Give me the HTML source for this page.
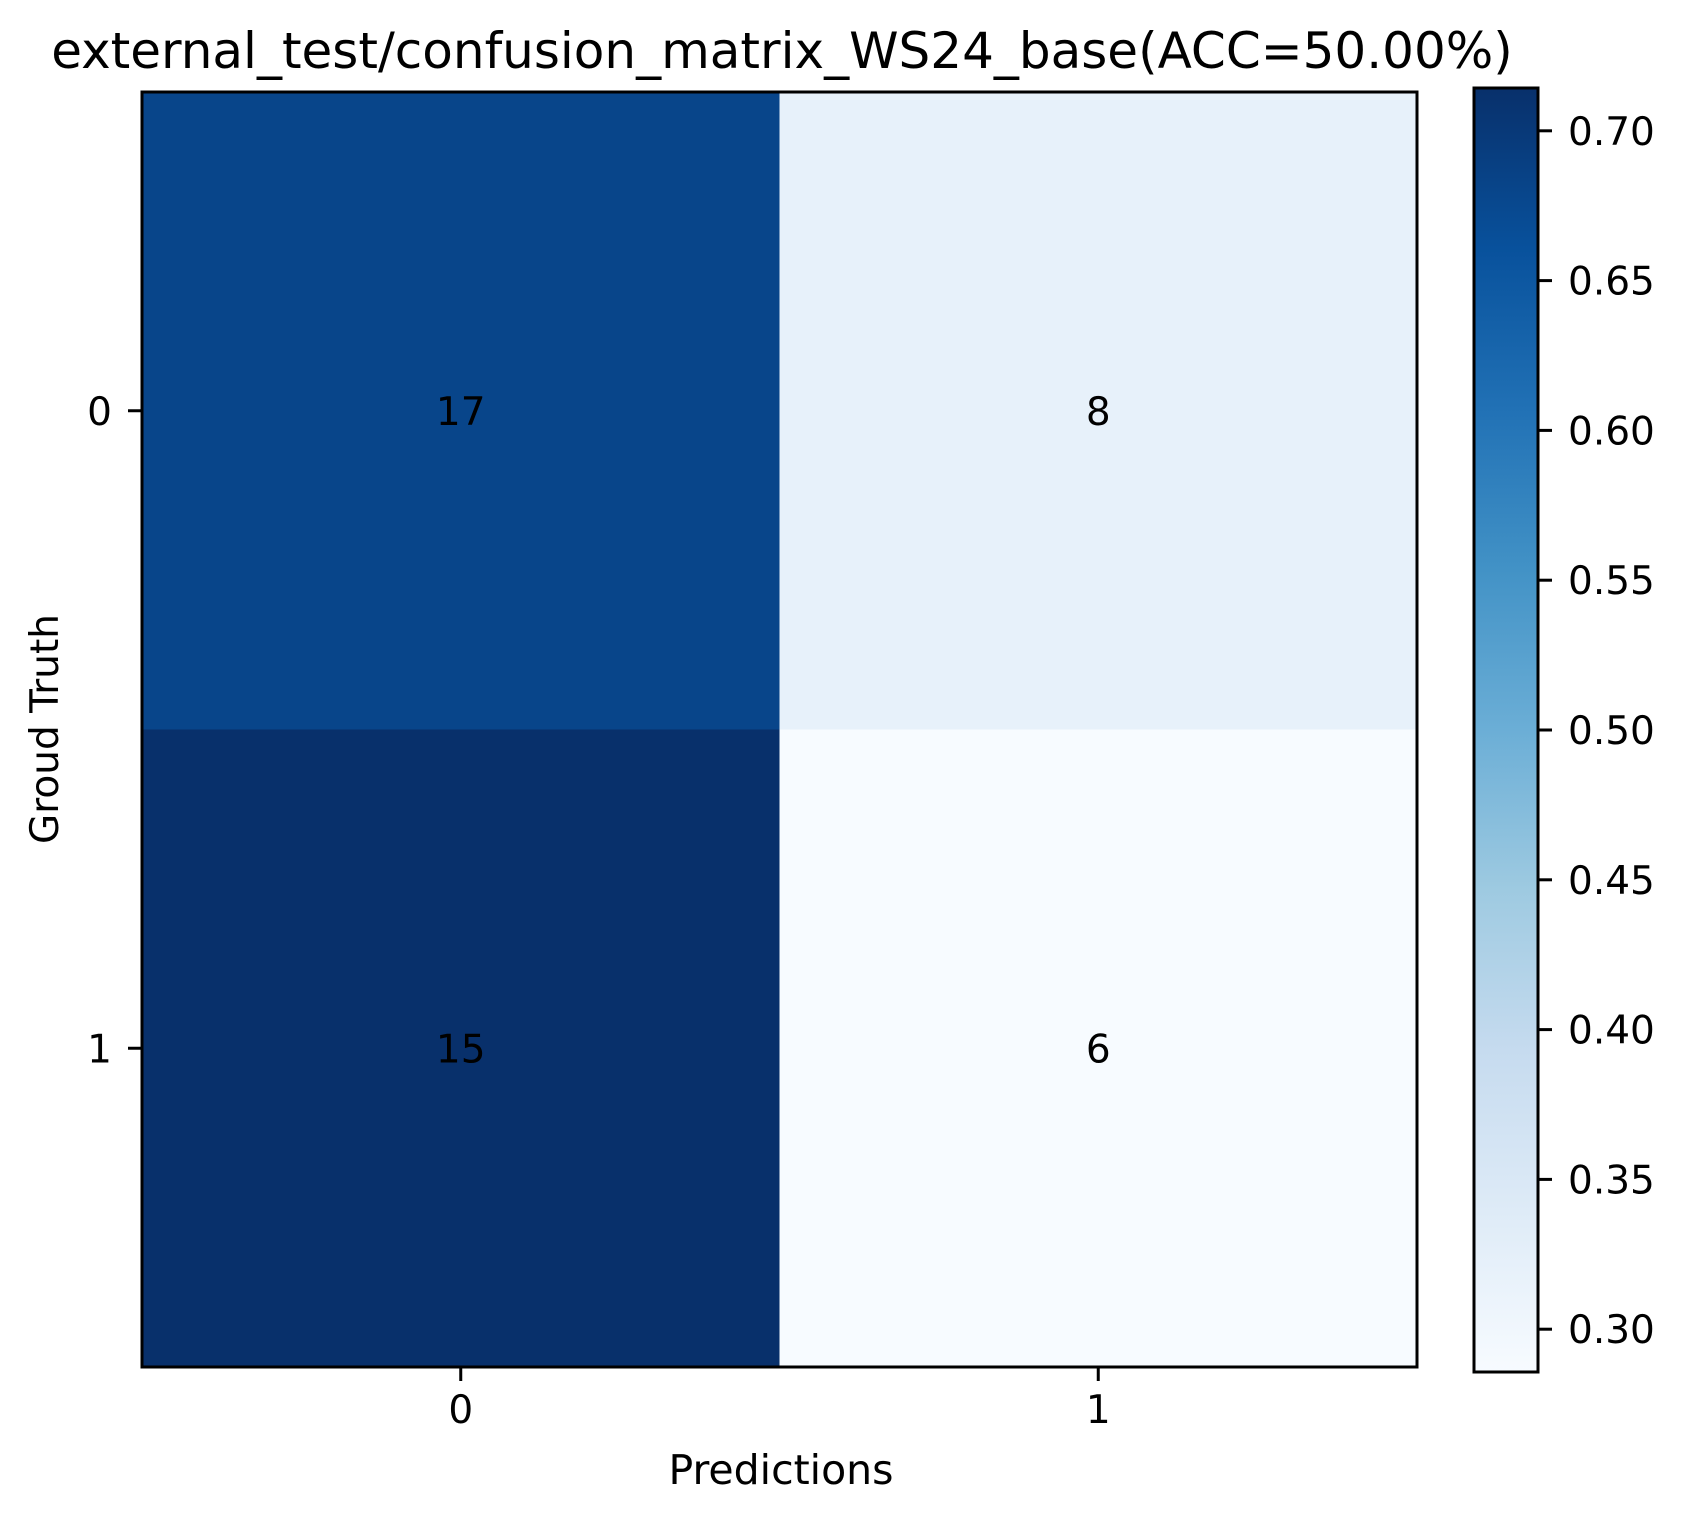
<!DOCTYPE html>
<html><head><meta charset="utf-8"><style>
html,body{margin:0;padding:0;background:#fff;}
svg{display:block;font-family:"DejaVu Sans","Liberation Sans",sans-serif;}
</style></head><body>
<svg id="chart" width="1689" height="1523" viewBox="0 0 1689 1523" xmlns="http://www.w3.org/2000/svg">
<defs>
<linearGradient id="cbgrad" x1="0" y1="1" x2="0" y2="0">
<stop offset="0" stop-color="#f7fbff"/><stop offset="0.125" stop-color="#deebf7"/><stop offset="0.25" stop-color="#c6dbef"/><stop offset="0.375" stop-color="#9ecae1"/><stop offset="0.5" stop-color="#6baed6"/><stop offset="0.625" stop-color="#4292c6"/><stop offset="0.75" stop-color="#2171b5"/><stop offset="0.875" stop-color="#08519c"/><stop offset="1" stop-color="#08306b"/>
</linearGradient>
</defs>
<text x="782" y="68" font-size="50" text-anchor="middle">external_test/confusion_matrix_WS24_base(ACC=50.00%)</text>
<g id="cells"></g>
<rect x="142" y="92" width="1275" height="1275" fill="none" stroke="#000" stroke-width="3"/>
<g id="ticks"></g>
<text x="781" y="1484" font-size="41" text-anchor="middle">Predictions</text>
<text transform="translate(58,729) rotate(-90)" font-size="39" text-anchor="middle">Groud Truth</text>
<rect x="1474" y="88" width="64" height="1284" fill="url(#cbgrad)" stroke="#000" stroke-width="3"/>
<g id="cbticks"></g>
</svg>
<script>
const categories = ["0","1"];
const counts = [[17,8],[15,6]];
const cbTicks = [0.30,0.35,0.40,0.45,0.50,0.55,0.60,0.65,0.70];
const NS="http://www.w3.org/2000/svg";
const stops=[[0,[247,251,255]],[0.125,[222,235,247]],[0.25,[198,219,239]],[0.375,[158,202,225]],[0.5,[107,174,214]],[0.625,[66,146,198]],[0.75,[33,113,181]],[0.875,[8,81,156]],[1,[8,48,107]]];
function blues(t){t=Math.max(0,Math.min(1,t));for(let i=1;i<stops.length;i++){if(t<=stops[i][0]){const a=stops[i-1],b=stops[i];const f=(t-a[0])/(b[0]-a[0]);const c=a[1].map((v,k)=>Math.round(v+(b[1][k]-v)*f));return `rgb(${c})`;}}return "rgb(8,48,107)";}
const norm=counts.map(r=>{const s=r.reduce((a,b)=>a+b,0);return r.map(v=>v/s);});
const flat=norm.flat();const vmin=Math.min(...flat),vmax=Math.max(...flat);
const n=categories.length, X0=142,Y0=92,SZ=1275,cell=SZ/n;
const xPos=i=>X0+cell*(i+0.5), yPos=i=>Y0+cell*(i+0.5);
const cb0=88,cbH=1284; const cbY=v=>cb0+cbH-(v-vmin)/(vmax-vmin)*cbH;
function mk(tag,attrs,parent,text){const e=document.createElementNS(NS,tag);for(const k in attrs)e.setAttribute(k,attrs[k]);if(text!==undefined)e.textContent=text;document.getElementById(parent).appendChild(e);return e;}
for(let r=0;r<n;r++)for(let c=0;c<n;c++){
 const rc=mk("rect",{x:X0+c*cell,y:Y0+r*cell,width:cell+0.5,height:cell+0.5,fill:blues((norm[r][c]-vmin)/(vmax-vmin))},"cells");
 
 
 const t=mk("text",{x:xPos(c),y:yPos(r)+14,"font-size":39,"text-anchor":"middle",fill:"#000"},"cells",String(counts[r][c]));
 
 
}
categories.forEach((lab,i)=>{
 const l1=mk("line",{x1:xPos(i),x2:xPos(i),y1:1367,y2:1381,stroke:"#000","stroke-width":3},"ticks");
 
 
 const t1=mk("text",{x:xPos(i),y:1423,"font-size":39,"text-anchor":"middle"},"ticks",lab);
 
 
 const l2=mk("line",{x1:128,x2:142,y1:yPos(i),y2:yPos(i),stroke:"#000","stroke-width":3},"ticks");
 
 
 const t2=mk("text",{x:112,y:yPos(i)+14,"font-size":39,"text-anchor":"end"},"ticks",lab);
 
 
});
cbTicks.forEach(v=>{
 const y=cbY(v);
 const l=mk("line",{x1:1538,x2:1552,y1:y,y2:y,stroke:"#000","stroke-width":3},"cbticks");
 
 
 const t=mk("text",{x:1568,y:y+14,"font-size":39},"cbticks",v.toFixed(2));
 
 
});
</script>
</body></html>
